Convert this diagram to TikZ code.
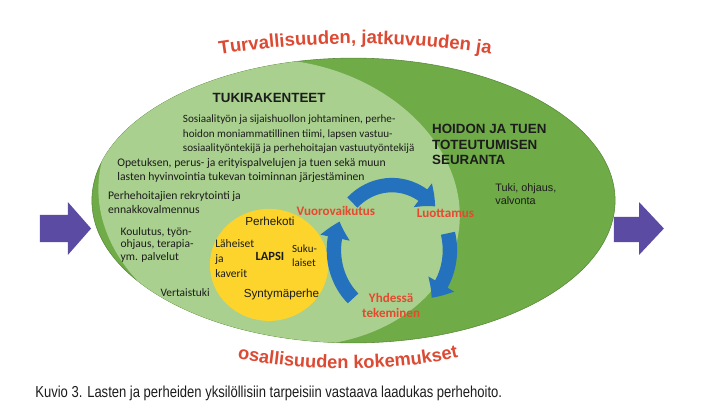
\documentclass[tikz,border=0pt]{standalone}
\usepackage{fontspec}
\setmainfont{Carlito}
\newfontfamily\arialfont{Liberation Sans}
\newfontfamily\captionfont[FakeStretch=0.82]{Liberation Sans}
\usetikzlibrary{arrows.meta,bending,decorations.text,calc}
\definecolor{leafgreen}{HTML}{6FAB47}
\definecolor{palegreen}{HTML}{A9D08E}
\definecolor{sunyellow}{HTML}{FCD42C}
\definecolor{cycleblue}{HTML}{2472BD}
\definecolor{labelred}{HTML}{E5492F}
\definecolor{titlered}{HTML}{DC4A33}
\definecolor{arrowpurple}{HTML}{5C4BA3}
\definecolor{black90}{HTML}{1C1C1C}

\begin{document}
\begin{tikzpicture}[
    every node/.style={inner sep=0pt, text=black90},
    bodytext/.style={align=left, font=\fontsize{8.3}{9.9}\selectfont},
    smalltext/.style={align=left, font=\fontsize{7.9}{10.3}\selectfont},
    headtext/.style={align=left, font=\arialfont\bfseries\fontsize{9.5}{11}\selectfont},
    yellowtext/.style={font=\arialfont\fontsize{8.3}{10}\selectfont},
    redlabel/.style={align=center, text=labelred, font=\bfseries\fontsize{9.3}{10.6}\selectfont},
    cyclearrow/.style={cycleblue, line width=0.36cm, -{Triangle[bend, width=0.72cm, length=0.42cm]}},
    sidearrow/.style={fill=arrowpurple},
]

\useasboundingbox (-8.8375,5.0125) rectangle (8.6875,-5.2875);

% Outer field
\fill[leafgreen, draw=leafgreen!80!black, thin] (0,0) ellipse [x radius=6.54, y radius=3.56];

% Support structures
\begin{scope}
  \clip (0,0) ellipse [x radius=6.54, y radius=3.56];
  \fill[palegreen, rotate around={-11:(-1.86,-0.05)}] (-1.86,-0.05) ellipse [x radius=4.55, y radius=3.55];
\end{scope}

% Child's circle
\fill[sunyellow] (-2.11,-1.61) ellipse [x radius=1.48, y radius=1.4];

% Side arrows
\fill[sidearrow] (-7.84,-0.36) -- (-7.14,-0.36) -- (-7.14,-0.04) -- (-6.56,-0.70)
    -- (-7.14,-1.36) -- (-7.14,-1.04) -- (-7.84,-1.04) -- cycle;
\fill[sidearrow] (6.51,-0.41) -- (7.14,-0.41) -- (7.14,-0.04) -- (7.76,-0.70)
    -- (7.14,-1.36) -- (7.14,-1.04) -- (6.51,-1.04) -- cycle;

% Curved titles
\path[decorate, decoration={text along path, text align=center, text color=titlered,
    text={|\arialfont\bfseries\fontsize{13.2}{15}\selectfont|Turvallisuuden, jatkuvuuden ja}}]
    (-3.44,3.64) .. controls (-1.12,4.01) and (1.2,4.01) .. (3.52,3.64);
\path[decorate, decoration={text along path, text align=center, text color=titlered,
    text={|\arialfont\bfseries\fontsize{13}{15}\selectfont|osallisuuden kokemukset}}]
    (-3.04,-3.92) .. controls (-1.36,-4.3) and (1.06,-4.3) .. (2.76,-3.89);

% Tukirakenteet
\node[headtext] (tuki) at (-2.11,2.56) {TUKIRAKENTEET};
\node[smalltext, anchor=west] (johto) at (-4.27,1.65) {Sosiaalityön ja sijaishuollon johtaminen, perhe-\\hoidon moniammatillinen tiimi, lapsen vastuu-\\sosiaalityöntekijä ja perhehoitajan vastuutyöntekijä};
\node[bodytext, anchor=west] (opetus) at (-5.91,0.74) {Opetuksen, perus- ja erityispalvelujen ja tuen sekä muun\\lasten hyvinvointia tukevan toiminnan järjestäminen};
\node[bodytext, anchor=west, font=\fontsize{8.3}{10.6}\selectfont] (rekry) at (-6.14,-0.05) {Perhehoitajien rekrytointi ja\\ennakkovalmennus};
\node[bodytext, anchor=west, font=\fontsize{8.2}{9.2}\selectfont] (koulutus) at (-5.83,-1.11) {Koulutus, työn-\\ohjaus, terapia-\\ym. palvelut};
\node[bodytext, font=\fontsize{8.1}{9.2}\selectfont] (vertais) at (-4.21,-2.31) {Vertaistuki};

% Seuranta
\node[headtext, anchor=west] (seuranta) at (1.96,1.40) {HOIDON JA TUEN\\TOTEUTUMISEN\\SEURANTA};
\node[anchor=west, align=left, font=\arialfont\fontsize{7.7}{9.2}\selectfont] (ohjaus) at (3.54,0.15) {Tuki, ohjaus,\\valvonta};

% Lapsi
\node[yellowtext] (perhekoti) at (-2.09,-0.51) {Perhekoti};
\node[font=\bfseries\fontsize{8.9}{10}\selectfont] (lapsi) at (-2.09,-1.39) {LAPSI};
\node[align=left, anchor=west, font=\fontsize{8.2}{10.6}\selectfont] (laheiset) at (-3.46,-1.46) {Läheiset\\ja\\kaverit};
\node[align=left, anchor=west, font=\fontsize{7.8}{9.9}\selectfont] (suku) at (-1.54,-1.39) {Suku-\\laiset};
\node[yellowtext] (synty) at (-1.80,-2.36) {Syntymäperhe};

% Cycle
\coordinate (cyc) at (0.96,-1.24);
\draw[cyclearrow] ($(cyc)+(133:1.45 and 1.625)$) arc[start angle=133, end angle=42, x radius=1.45, y radius=1.625];
\draw[cyclearrow] ($(cyc)+(15:1.45 and 1.625)$) arc[start angle=15, end angle=-47, x radius=1.45, y radius=1.625];
\draw[cyclearrow] ($(cyc)+(228:1.45 and 1.625)$) arc[start angle=228, end angle=154, x radius=1.45, y radius=1.625];
\node[redlabel] (vuoro) at (-0.44,-0.26) {Vuorovaikutus};
\node[redlabel] (luotto) at (2.30,-0.31) {Luottamus};
\node[redlabel] (yhdessa) at (0.94,-2.63) {Yhdessä\\tekeminen};

% Caption
\node[anchor=west, font=\captionfont\fontsize{11.3}{13}\selectfont] (kuvio) at (-7.96,-4.81) {Kuvio 3. Lasten ja perheiden yksilöllisiin tarpeisiin vastaava laadukas perhehoito.};

\end{tikzpicture}
\end{document}
